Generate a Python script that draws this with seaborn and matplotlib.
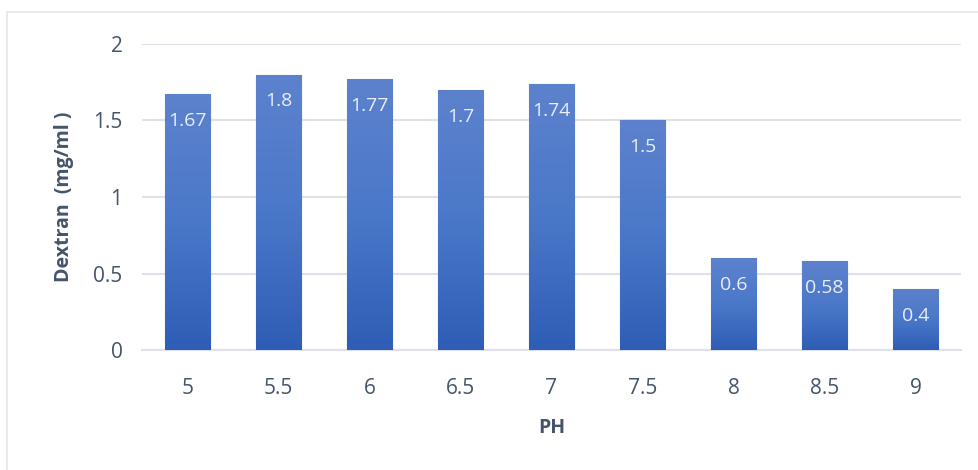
import numpy as np
import pandas as pd
import matplotlib.pyplot as plt
import seaborn as sns
from matplotlib.colors import LinearSegmentedColormap
from matplotlib.lines import Line2D

ph = ['5', '5.5', '6', '6.5', '7', '7.5', '8', '8.5', '9']
dextran = [1.67, 1.8, 1.77, 1.7, 1.74, 1.5, 0.6, 0.58, 0.4]

df = pd.DataFrame({'PH': ph, 'Dextran': dextran})

sns.set_style('white')
plt.rcParams['font.family'] = ['Open Sans', 'DejaVu Sans']

text_col = '#44546a'
grid_col = '#dde2e8'

fig = plt.figure(figsize=(9.79, 4.70), dpi=100)
ax = fig.add_axes([142 / 979, 120 / 470, (961 - 142) / 979, 306 / 470])

sns.barplot(data=df, x='PH', y='Dextran', color='#4472c4', width=0.5, ax=ax,
            edgecolor='#6a8fd6', linewidth=0.8, zorder=3)

# gradient fill on each bar (light top, dark bottom)
cmap = LinearSegmentedColormap.from_list('g', ['#2e5db5', '#4a78c9', '#5d82cd'])
grad = np.linspace(0, 1, 256).reshape(-1, 1)
for p in ax.patches:
    x0, y0 = p.get_x(), p.get_y()
    w, h = p.get_width(), p.get_height()
    im = ax.imshow(grad, cmap=cmap, aspect='auto', origin='lower',
                   extent=[x0, x0 + w, y0, y0 + h], zorder=3.5)
    im.set_clip_path(p)

for p, v in zip(ax.patches, dextran):
    ax.text(p.get_x() + p.get_width() / 2, v - 0.175, f'{v:g}', ha='center', va='center',
            color='#e8eef8', fontsize=14, zorder=5)

ax.set_xlim(-0.5, len(ph) - 0.5)
ax.set_ylim(0, 2)
ax.set_yticks([0, 0.5, 1, 1.5, 2])
ax.set_yticklabels(['0', '0.5', '1', '1.5', '2'])
ax.yaxis.grid(True, color=grid_col, linewidth=1.5, zorder=0)
ax.set_axisbelow(True)
for s in ['top', 'right', 'left']:
    ax.spines[s].set_visible(False)
ax.spines['bottom'].set_color(grid_col)
ax.spines['bottom'].set_linewidth(1.5)
ax.tick_params(axis='both', length=0, labelsize=15, colors=text_col)
ax.tick_params(axis='x', pad=20)
ax.tick_params(axis='y', pad=14)

ax.set_xlabel('PH', fontsize=14, fontweight='bold', color=text_col, labelpad=14)
ax.set_ylabel('Dextran  (mg/ml )', fontsize=14, fontweight='bold', color=text_col, labelpad=14)

# chart area border (top and left visible)
fig.add_artist(Line2D([7 / 979, 1], [1 - 12 / 470, 1 - 12 / 470], color='#e3e6ea', lw=1.2))
fig.add_artist(Line2D([7 / 979, 7 / 979], [0, 1 - 12 / 470], color='#e3e6ea', lw=1.2))

plt.savefig('out.png', dpi=100)
